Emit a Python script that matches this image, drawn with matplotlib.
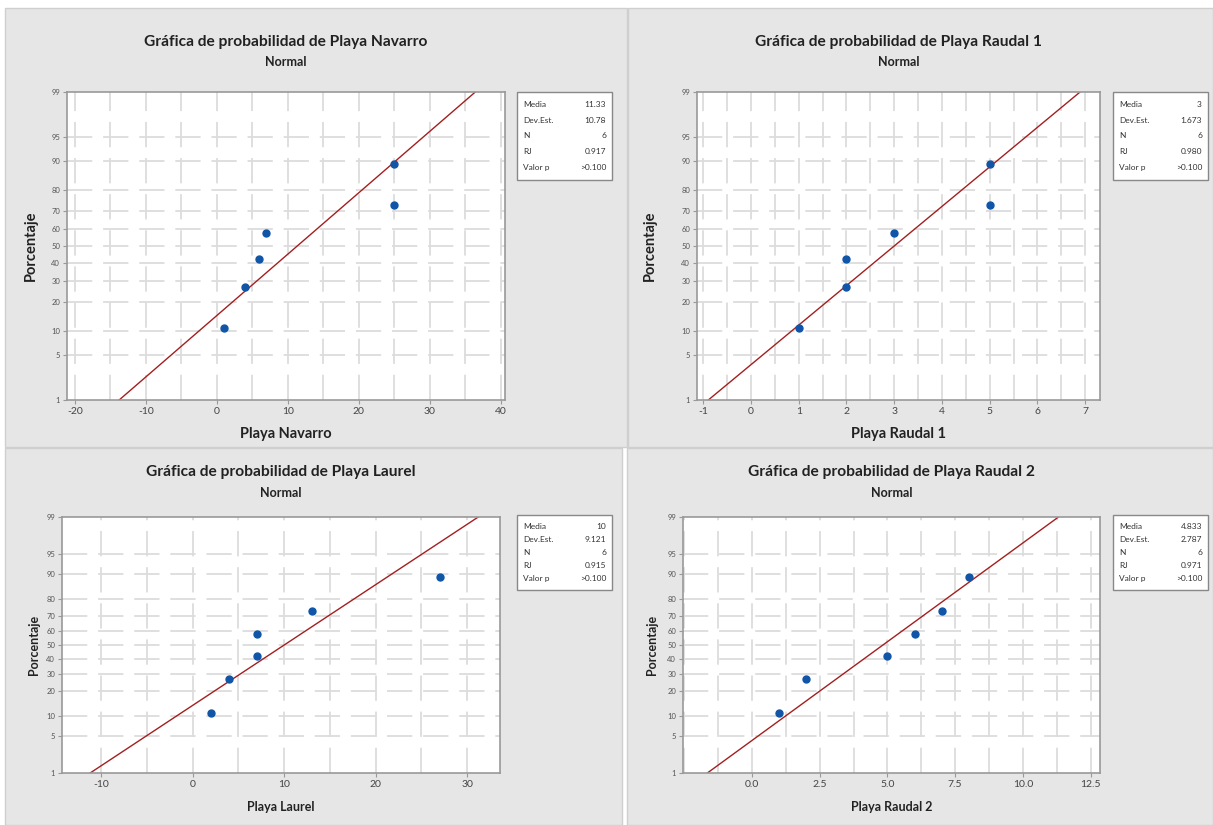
import numpy as np
import matplotlib
matplotlib.use("Agg")
import matplotlib.pyplot as plt
from matplotlib.patches import Rectangle
from statistics import NormalDist

# --- datos ---
navarro = [1, 4, 6, 7, 25, 25]
raudal1 = [1, 2, 2, 3, 5, 5]
laurel = [2, 4, 7, 7, 13, 27]
raudal2 = [1, 2, 5, 6, 7, 8]

# posiciones de graficado (rangos medianos, %)
percents = [10.9, 26.6, 42.2, 57.8, 73.4, 89.1]
y_ticks_pct = [1, 5, 10, 20, 30, 40, 50, 60, 70, 80, 90, 95, 99]

names = ["Playa Navarro", "Playa Raudal 1", "Playa Laurel", "Playa Raudal 2"]
stat_labels = ["Media", "Dev.Est.", "N", "RJ", "Valor p"]
stat_values = [
    ["11.33", "10.78", "6", "0.917", ">0.100"],
    ["3", "1.673", "6", "0.980", ">0.100"],
    ["10", "9.121", "6", "0.915", ">0.100"],
    ["4.833", "2.787", "6", "0.971", ">0.100"],
]

plt.rcParams['font.family'] = ['Lato', 'DejaVu Sans']

W, H = 1213, 825
fig = plt.figure(figsize=(W / 100, H / 100), dpi=100)
fig.patch.set_facecolor("white")

z = NormalDist().inv_cdf

def fx(px):
    return px / W

def fy(py):
    return 1 - py / H

# paneles de fondo (x0, y0, x1, y1 en pixeles)
panels = [(5, 8, 627, 447), (628, 8, 1213, 447), (5, 448, 622, 825), (627, 448, 1213, 825)]
for x0, y0, x1, y1 in panels:
    fig.patches.append(Rectangle((fx(x0), fy(y1)), fx(x1 - x0), (y1 - y0) / H,
                                 transform=fig.transFigure, facecolor="#e6e6e6",
                                 edgecolor="#cfcfcf", linewidth=1, zorder=-5))

# ejes: (izq, der, arriba, abajo) en pixeles
axes_px = [(67, 505, 92, 400), (697, 1100, 92, 400), (62, 500, 517, 773), (683, 1100, 517, 773)]
xlims = [(-21.1, 40.6), (-1.13, 7.31), (-14.3, 33.6), (-2.55, 12.85)]
xmajor = [np.arange(-20, 41, 10), np.arange(-1, 8, 1), np.arange(-10, 31, 10), np.arange(0, 12.6, 2.5)]
xgrid = [np.arange(-20, 41, 5), np.arange(-1, 7.6, 0.5), np.arange(-10, 34, 5), np.arange(-2.5, 12.6, 1.25)]
xfmt = ["{:.0f}", "{:.0f}", "{:.0f}", "{:.1f}"]
boxes_px = [(517, 92, 612, 180), (1113, 92, 1208, 180), (517, 515, 612, 590), (1113, 515, 1208, 590)]
datasets = [navarro, raudal1, laurel, raudal2]
label_sizes = [10.5, 10.5, 9, 9]
ylabel_x = [31, 650, 34, 652]
title_off = [(50, 30), (50, 30), (45, 24), (45, 24)]

for i in range(4):
    l, r, t, b = axes_px[i]
    ax = fig.add_axes([fx(l), fy(b), fx(r - l), (b - t) / H])
    ax.set_zorder(2)
    ax.set_facecolor("white")
    data = np.array(datasets[i], dtype=float)
    zy = [z(p / 100) for p in percents]

    # grid quebrado estilo Minitab
    for gx in xgrid[i]:
        ax.axvline(gx, color="#dcdcdc", lw=1.3, ls=(0, (14, 6)), zorder=0)
    for p in y_ticks_pct[1:-1]:
        ax.axhline(z(p / 100), color="#dcdcdc", lw=1.3, ls=(0, (14, 6)), zorder=0)

    # linea ajustada
    m, s = data.mean(), data.std(ddof=1)
    zz = np.array([z(0.01), z(0.99)])
    ax.plot(m + s * zz, zz, color="#a31f1f", lw=1.0, zorder=2)

    ax.plot(data, zy, "o", color="#1055a8", ms=5, zorder=3)

    ax.set_xlim(*xlims[i])
    ax.set_ylim(z(0.01), z(0.99))
    ax.set_yticks([z(p / 100) for p in y_ticks_pct])
    ax.set_yticklabels([str(p) for p in y_ticks_pct], fontsize=5.5, color="#555555")
    ax.set_xticks(xmajor[i])
    ax.set_xticklabels([xfmt[i].format(v) for v in xmajor[i]], fontsize=7.5, color="#444444")
    ax.tick_params(direction="out", length=3, width=0.8, color="#999999", pad=2)
    for sp in ax.spines.values():
        sp.set_color("#999999")
        sp.set_linewidth(1.2)

    # titulos y etiquetas
    cx = (l + r) / 2
    fig.text(fx(cx), fy(t - title_off[i][0]), "Gráfica de probabilidad de " + names[i],
             ha="center", va="center", fontsize=11.2, fontweight="bold", color="#222222")
    fig.text(fx(cx), fy(t - title_off[i][1]), "Normal", ha="center", va="center",
             fontsize=9, fontweight="bold", color="#222222")
    fig.text(fx(cx), fy(b + 34), names[i], ha="center", va="center",
             fontsize=label_sizes[i], fontweight="bold", color="#222222")
    fig.text(fx(ylabel_x[i]), fy((t + b) / 2), "Porcentaje", ha="center", va="center",
             rotation=90, fontsize=label_sizes[i], fontweight="bold", color="#222222")

    # caja de estadisticos
    bx0, by0, bx1, by1 = boxes_px[i]
    fig.patches.append(Rectangle((fx(bx0), fy(by1)), fx(bx1 - bx0), (by1 - by0) / H,
                                 transform=fig.transFigure, facecolor="white",
                                 edgecolor="#888888", linewidth=1, zorder=5))
    step = (by1 - by0 - 10) / 5
    for k in range(5):
        yy = by0 + 5 + step * (k + 0.5)
        fig.text(fx(bx0 + 6), fy(yy), stat_labels[k], ha="left", va="center",
                 fontsize=6, color="#333333", zorder=6)
        fig.text(fx(bx1 - 6), fy(yy), stat_values[i][k], ha="right", va="center",
                 fontsize=6, color="#333333", zorder=6)

fig.savefig("out.png", dpi=100)
